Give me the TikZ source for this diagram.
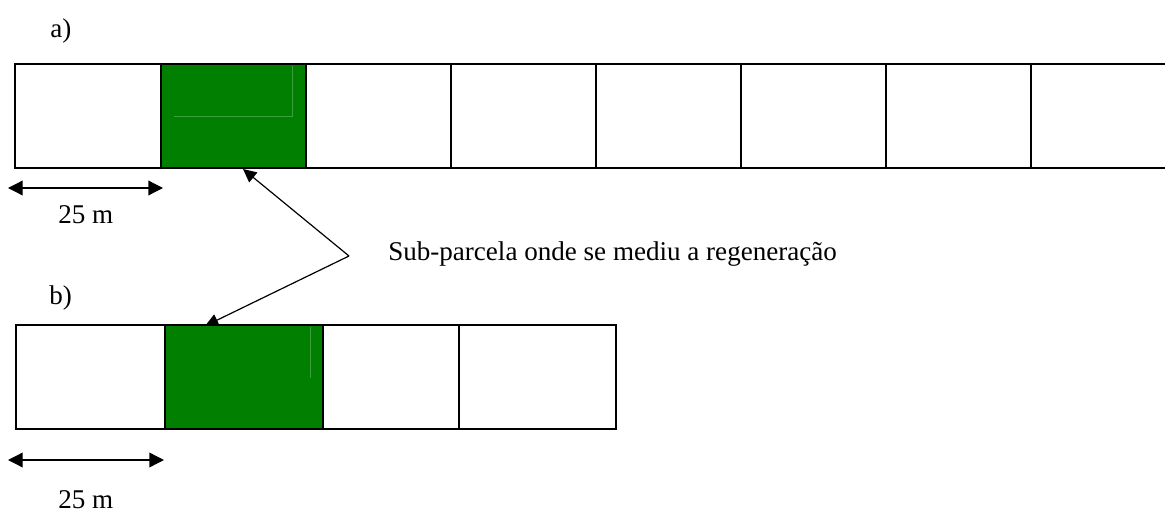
\documentclass[tikz,border=0pt]{standalone}
\usepackage{fontspec}
\setmainfont{Liberation Serif}
\usetikzlibrary{arrows.meta}
\definecolor{plotgreen}{HTML}{007F00}
\definecolor{plotgreenlight}{HTML}{3C9E3C}
\tikzset{
  cell/.style={draw=black, line width=1.0pt, fill=white, inner sep=0pt, outer sep=0pt,
               minimum height={104*0.75pt}},
  sampled/.style={cell, fill=plotgreen},
  label/.style={inner sep=0pt, anchor=base west, font=\fontsize{20.3}{24}\selectfont},
  span/.style={line width=1.0pt, {Triangle[length=11pt,width=11pt]}-{Triangle[length=11pt,width=11pt]}},
  pointer/.style={line width=0.9pt, -{Triangle[length=10pt,width=9.5pt]}},
  seam/.style={plotgreenlight, line width=0.5pt}
}
\begin{document}
\begin{tikzpicture}[x=0.75pt, y=-0.75pt]
\useasboundingbox (0,0) rectangle (1165,518);
\clip (0,0) rectangle (1165,518);

% a) strip of eight sub-plots
\node[label] (la) at (50,37) {a)};
\node[cell,    minimum width={146*0.75pt}] (a1) at (88,116) {};
\node[sampled, minimum width={145*0.75pt}] (a2) at (233.5,116) {};
\node[cell,    minimum width={145*0.75pt}] (a3) at (378.5,116) {};
\node[cell,    minimum width={145*0.75pt}] (a4) at (523.5,116) {};
\node[cell,    minimum width={145*0.75pt}] (a5) at (668.5,116) {};
\node[cell,    minimum width={145*0.75pt}] (a6) at (813.5,116) {};
\node[cell,    minimum width={145*0.75pt}] (a7) at (958.5,116) {};
\node[cell,    minimum width={170*0.75pt}] (a8) at (1116,116) {};
\draw[seam] (174,116) -- (292,116) -- (292,66);

\coordinate (sa1) at (8,188);
\coordinate (sa2) at (163,188);
\draw[span] (sa1) -- (sa2);
\node[label] (ma) at (58,223) {25 m};

% caption and pointers to the sampled sub-plots
\node[label] (cap) at (388,260) {Sub-parcela onde se mediu a regeneração};
\coordinate (v) at (349,256);
\coordinate (ta) at (243,169);
\coordinate (tb) at (205,326);
\draw[pointer] (v) -- (ta);
\draw[pointer] (v) -- (tb);

% b) strip of four sub-plots
\node[label] (lb) at (49,304) {b)};
\node[cell,    minimum width={149*0.75pt}] (b1) at (90.5,377) {};
\node[sampled, minimum width={158*0.75pt}] (b2) at (244,377) {};
\node[cell,    minimum width={136*0.75pt}] (b3) at (391,377) {};
\node[cell,    minimum width={157*0.75pt}] (b4) at (537.5,377) {};
\draw[seam] (310,327) -- (310,378);

\coordinate (sb1) at (8,460);
\coordinate (sb2) at (164,460);
\draw[span] (sb1) -- (sb2);
\node[label] (mb) at (58,508) {25 m};
\end{tikzpicture}
\end{document}
